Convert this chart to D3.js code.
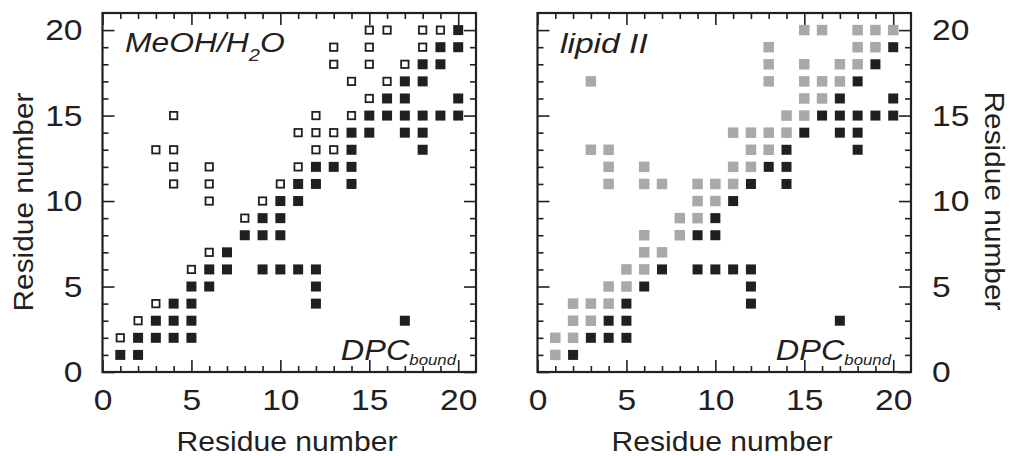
<!DOCTYPE html>
<html lang="en">
<head>
<meta charset="utf-8">
<title>NOE contact maps</title>
<script src="https://d3js.org/d3.v7.min.js"></script>
<style>
  body { margin: 0; background: #fff; }
  svg text { font-family: "Liberation Sans", Arial, Helvetica, sans-serif; fill: #231f20; }
</style>
</head>
<body>
<script>
// residue pairs [x, y]
var meohOpen = [
  [15,20],[16,20],[18,20],[19,20],
  [13,19],[15,19],[18,19],
  [13,18],[15,18],[17,18],
  [14,17],[16,17],
  [15,16],
  [4,15],[12,15],[14,15],
  [11,14],[12,14],[13,14],
  [3,13],[4,13],[12,13],[13,13],
  [4,12],[6,12],[11,12],
  [4,11],[6,11],[10,11],
  [6,10],[9,10],
  [8,9],
  [6,7],
  [5,6],
  [3,4],
  [2,3],
  [1,2]
];
var dpcLeft = [
  [20,20],
  [19,19],[20,19],
  [18,18],[19,18],
  [17,17],[18,17],
  [16,16],[17,16],[20,16],
  [15,15],[16,15],[17,15],[18,15],[19,15],[20,15],
  [14,14],[15,14],[17,14],[18,14],
  [14,13],[18,13],
  [12,12],[13,12],[14,12],
  [11,11],[12,11],[14,11],
  [10,10],[11,10],
  [9,9],[10,9],
  [8,8],[9,8],[10,8],
  [7,7],
  [6,6],[7,6],[9,6],[10,6],[11,6],[12,6],
  [5,5],[6,5],[12,5],
  [4,4],[5,4],[12,4],
  [3,3],[4,3],[5,3],[17,3],
  [2,2],[3,2],[4,2],[5,2],
  [1,1],[2,1]
];
var lipidGray = [
  [15,20],[16,20],[18,20],[19,20],[20,20],
  [13,19],[18,19],[19,19],
  [13,18],[15,18],[17,18],[18,18],
  [3,17],[13,17],[15,17],[16,17],[17,17],
  [15,16],[16,16],
  [14,15],[15,15],
  [11,14],[12,14],[13,14],[14,14],
  [3,13],[4,13],[12,13],[13,13],
  [4,12],[6,12],[11,12],[12,12],
  [4,11],[6,11],[7,11],[9,11],[10,11],[11,11],
  [9,10],[10,10],
  [8,9],[9,9],
  [6,8],[8,8],
  [6,7],[7,7],
  [5,6],[6,6],
  [4,5],[5,5],
  [2,4],[3,4],[4,4],
  [2,3],[3,3],
  [1,2],[2,2],
  [1,1]
];
var dpcRight = [
  [20,19],
  [19,18],
  [18,17],
  [17,16],[20,16],
  [16,15],[17,15],[18,15],[19,15],[20,15],
  [15,14],[17,14],[18,14],
  [14,13],[18,13],
  [13,12],[14,12],
  [12,11],[14,11],
  [11,10],
  [10,9],
  [9,8],[10,8],
  [7,6],[9,6],[10,6],[11,6],[12,6],
  [6,5],[12,5],
  [5,4],[12,4],
  [4,3],[5,3],[17,3],
  [3,2],[4,2],[5,2],
  [2,1]
];
var majorTicks = [0, 5, 10, 15, 20];
var minorTicks = d3.range(1, 21).filter(function(v){ return v % 5 != 0; });

var black = "#231f20";
var gray = "#a7a9ac";
var sx = 1.12; // reference glyphs are a bit wider than Liberation Sans

var width = 1011, height = 456;
var svg = d3.select("body").append("svg").attr("width", width).attr("height", height);

var yScale = d3.scaleLinear().domain([0, 21]).range([372, 13]);

function panel(x0, opts) {
  var xScale = d3.scaleLinear().domain([0, 21]).range([x0, x0 + 373.5]);
  var g = svg.append("g");

  // inward ticks on all four sides, labels only where the reference has them
  function ticks(axisFn, scale, transform, labels, pad) {
    var minor = axisFn(scale).tickValues(minorTicks).tickSize(-6).tickFormat("");
    var major = axisFn(scale).tickValues(majorTicks).tickSize(-12).tickPadding(pad || 0)
      .tickFormat(labels ? d3.format("d") : "");
    var a = g.append("g").attr("transform", transform).call(minor);
    var b = g.append("g").attr("transform", transform).call(major);
    [a, b].forEach(function(s){
      s.select(".domain").remove();
      s.selectAll("line").attr("stroke", black).attr("stroke-width", 1.6);
      s.selectAll("text").attr("font-size", 30).attr("fill", black);
    });
    return b.selectAll("text");
  }
  ticks(d3.axisBottom, xScale, "translate(0,372)", true, 16)
    .attr("dy", "0.72em").attr("transform", "scale(" + sx + ",1)");
  ticks(d3.axisTop, xScale, "translate(0,13)", false);
  ticks(d3.axisLeft, yScale, "translate(" + x0 + ",0)", opts.labelLeft, 20)
    .attr("x", -20 / sx).attr("transform", "scale(" + sx + ",1)");
  ticks(d3.axisRight, yScale, "translate(" + (x0 + 373.5) + ",0)", opts.labelRight, 21)
    .attr("x", 21 / sx).attr("transform", "scale(" + sx + ",1)");

  g.append("rect")
    .attr("x", x0).attr("y", 13)
    .attr("width", 373.5).attr("height", 359)
    .attr("fill", "none").attr("stroke", black).attr("stroke-width", 2.2);

  return {g: g, x: xScale};
}

function filled(p, data, color, s) {
  p.g.selectAll(null).data(data).enter().append("rect")
    .attr("x", function(d){ return p.x(d[0]) - s / 2; })
    .attr("y", function(d){ return yScale(d[1]) - s / 2; })
    .attr("width", s).attr("height", s)
    .attr("fill", color);
}
function open(p, data) {
  p.g.selectAll(null).data(data).enter().append("rect")
    .attr("x", function(d){ return p.x(d[0]) - 3.7; })
    .attr("y", function(d){ return yScale(d[1]) - 3.7; })
    .attr("width", 7.4).attr("height", 7.4)
    .attr("fill", "#fff").attr("stroke", black).attr("stroke-width", 1.8);
}

var left = panel(102.5, {labelLeft: true, labelRight: false});
var right = panel(537.5, {labelLeft: false, labelRight: true});

open(left, meohOpen);
filled(left, dpcLeft, black, 10);
filled(right, lipidGray, gray, 10.5);
filled(right, dpcRight, black, 10);

// panel labels
var t1 = svg.append("text").attr("transform", "translate(125,52) scale(1.18,1)")
  .attr("font-size", 27).attr("font-style", "italic");
t1.append("tspan").text("MeOH/H");
t1.append("tspan").attr("font-size", 17).attr("dy", 9).text("2");
t1.append("tspan").attr("dy", -9).text("O");

svg.append("text").attr("transform", "translate(560,53) scale(1.2,1)")
  .attr("font-size", 28).attr("font-style", "italic").text("lipid II");

[456, 891].forEach(function(xe){
  var t = svg.append("text").attr("transform", "translate(" + xe + ",360) scale(" + sx + ",1)")
    .attr("font-size", 29).attr("font-style", "italic").attr("text-anchor", "end");
  t.append("tspan").text("DPC");
  t.append("tspan").attr("font-size", 15).attr("dy", 5).text("bound");
});

// axis titles
[287, 722].forEach(function(cx){
  svg.append("text").attr("x", cx).attr("y", 451).attr("font-size", 28)
    .attr("text-anchor", "middle").attr("textLength", 221).attr("lengthAdjust", "spacingAndGlyphs")
    .text("Residue number");
});
svg.append("text").attr("transform", "translate(33,202) rotate(-90)")
  .attr("font-size", 28).attr("text-anchor", "middle")
  .attr("textLength", 219).attr("lengthAdjust", "spacingAndGlyphs").text("Residue number");
svg.append("text").attr("transform", "translate(985,201) rotate(90)")
  .attr("font-size", 28).attr("text-anchor", "middle")
  .attr("textLength", 219).attr("lengthAdjust", "spacingAndGlyphs").text("Residue number");
</script>
</body>
</html>
